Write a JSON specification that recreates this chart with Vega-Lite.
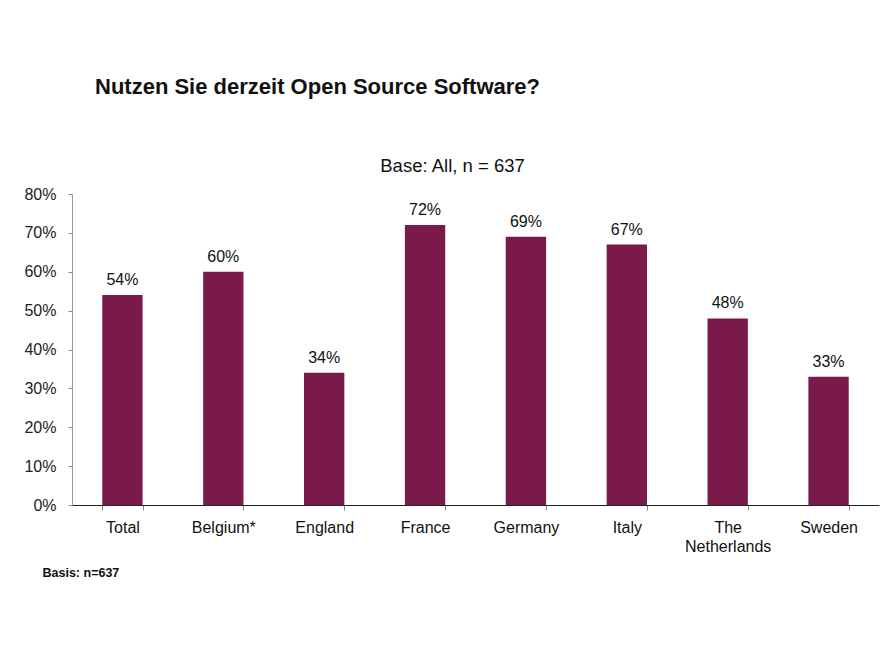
{
  "$schema": "https://vega.github.io/schema/vega-lite/v6.json",
  "width": 807,
  "height": 311,
  "autosize": {"type": "none"},
  "padding": {"left": 72, "top": 194, "right": 11, "bottom": 163},
  "background": "white",
  "config": {
    "view": {"stroke": null},
    "font": "Liberation Sans"
  },
  "title": {
    "text": "Nutzen Sie derzeit Open Source Software?",
    "anchor": "start",
    "frame": "group",
    "dx": 23,
    "offset": 57,
    "fontSize": 22,
    "fontWeight": "bold",
    "font": "Liberation Sans",
    "color": "#111111"
  },
  "data": {
    "values": [
      {"country": "Total", "share": 0.54},
      {"country": "Belgium*", "share": 0.60},
      {"country": "England", "share": 0.34},
      {"country": "France", "share": 0.72},
      {"country": "Germany", "share": 0.69},
      {"country": "Italy", "share": 0.67},
      {"country": "The Netherlands", "share": 0.48},
      {"country": "Sweden", "share": 0.33}
    ]
  },
  "encoding": {
    "x": {
      "field": "country",
      "type": "nominal",
      "sort": null,
      "scale": {"paddingInner": 0.6, "paddingOuter": 0.3},
      "axis": {
        "title": "Basis: n=637",
        "titleX": -30,
        "titleY": 71,
        "titleAlign": "left",
        "titleBaseline": "alphabetic",
        "titleFontSize": 12.5,
        "titleFontWeight": "bold",
        "titleColor": "#111111",
        "labelAngle": 0,
        "labelFontSize": 16,
        "labelColor": "#111111",
        "labelPadding": 9,
        "labelLineHeight": 19,
        "labelExpr": "datum.label == 'The Netherlands' ? ['The', 'Netherlands'] : datum.label",
        "tickBand": "extent",
        "tickSize": 5,
        "tickColor": "#888888",
        "domainColor": "#222222",
        "grid": false
      }
    },
    "y": {
      "field": "share",
      "type": "quantitative",
      "scale": {"domain": [0, 0.8], "nice": false},
      "axis": {
        "format": ".0%",
        "values": [0, 0.1, 0.2, 0.3, 0.4, 0.5, 0.6, 0.7, 0.8],
        "title": "Base: All, n = 637",
        "titleAngle": 0,
        "titleX": 380,
        "titleY": -23,
        "titleAlign": "center",
        "titleBaseline": "alphabetic",
        "titleFontSize": 18.5,
        "titleFontWeight": "normal",
        "titleColor": "#111111",
        "labelFontSize": 16,
        "labelColor": "#222222",
        "labelPadding": 12,
        "tickSize": 4,
        "tickColor": "#888888",
        "domainColor": "#999999",
        "grid": false
      }
    }
  },
  "layer": [
    {"mark": {"type": "bar", "color": "#7a1a4b"}},
    {
      "mark": {"type": "text", "baseline": "alphabetic", "dy": -10, "fontSize": 16, "color": "#111111"},
      "encoding": {"text": {"field": "share", "type": "quantitative", "format": ".0%"}}
    }
  ]
}
